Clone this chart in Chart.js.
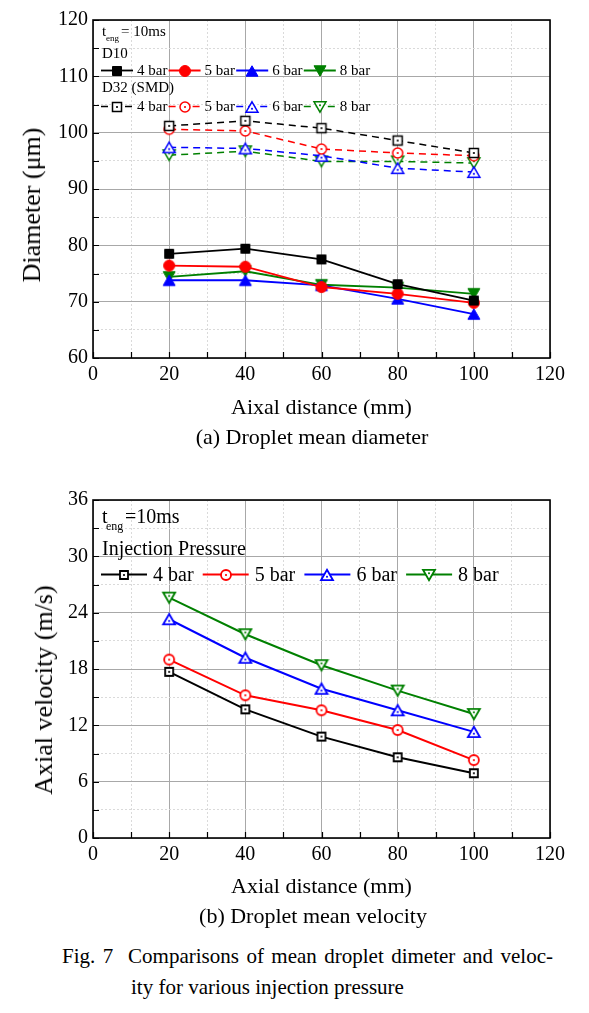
<!DOCTYPE html>
<html>
<head>
<meta charset="utf-8">
<script src="https://cdn.jsdelivr.net/npm/chart.js@4.4.0/dist/chart.umd.min.js"></script>
<style>
	body { margin: 0; background: #fff; }
	#page { position: relative; width: 589px; height: 1013px; overflow: hidden; font-family: "Liberation Serif", "Times New Roman", serif; color: #000; }
	.box { position: absolute; left: 0; width: 589px; }
	.txt { position: absolute; white-space: nowrap; line-height: 1; transform: translate(-50%, -50%); }
	.ytitle { position: absolute; white-space: nowrap; line-height: 1; font-size: 26px; transform: translate(-50%, -50%) rotate(-90deg); }
	.fig { position: absolute; white-space: nowrap; line-height: 1; font-size: 21px; }
</style>
</head>
<body>
<div id="page">
	<div class="box" style="top:0;height:425px"><canvas id="diameterChart" width="589" height="425"></canvas></div>
	<div class="ytitle" style="left:32px;top:205px">Diameter (μm)</div>
	<div class="txt" style="left:312px;top:437px;font-size:22px">(a) Droplet mean diameter</div>

	<div class="box" style="top:470px;height:434px"><canvas id="velocityChart" width="589" height="434"></canvas></div>
	<div class="ytitle" style="left:44px;top:690px">Axial velocity (m/s)</div>
	<div class="txt" style="left:313px;top:916px;font-size:22px">(b) Droplet mean velocity</div>

	<div class="fig" style="left:62px;top:946px;width:491px;text-align:justify;text-align-last:justify">Fig. 7&nbsp; Comparisons of mean droplet dimeter and veloc-</div>
	<div class="fig" style="left:131px;top:977px">ity for various injection pressure</div>
</div>
<script>
"use strict"

// axial distance (mm)
const distance = [20, 40, 60, 80, 100]

// D10 mean diameter (um)
const d10_4bar = [78.5, 79.4, 77.5, 73.1, 70.2]
const d10_5bar = [76.4, 76.2, 72.6, 71.4, 69.8]
const d10_6bar = [73.8, 73.8, 72.9, 70.5, 67.8]
const d10_8bar = [74.4, 75.4, 73.0, 72.5, 71.4]

// D32 (SMD) diameter (um)
const d32_4bar = [101.2, 102.1, 100.8, 98.6, 96.4]
const d32_5bar = [100.6, 100.3, 97.1, 96.4, 95.9]
const d32_6bar = [97.4, 97.2, 95.9, 93.7, 93.0]
const d32_8bar = [96.0, 96.7, 94.9, 94.9, 94.6]

// axial velocity (m/s)
const vel_4bar = [17.7, 13.7, 10.8, 8.6, 6.9]
const vel_5bar = [19.0, 15.2, 13.6, 11.5, 8.3]
const vel_6bar = [23.3, 19.2, 15.9, 13.6, 11.3]
const vel_8bar = [25.6, 21.7, 18.4, 15.7, 13.2]

const pressures = ["4 bar", "5 bar", "6 bar", "8 bar"]
const distanceTicks = [0, 20, 40, 60, 80, 100, 120]
const diameterTicks = [60, 70, 80, 90, 100, 110, 120]
const velocityTicks = [0, 6, 12, 18, 24, 30, 36]

const colors = ["#000000", "#ff0000", "#0000ff", "#008000"]
const shapes = ["square", "circle", "up", "down"]
const serif = "'Liberation Serif', 'Times New Roman', serif"

Chart.defaults.font.family = serif
Chart.defaults.color = "#000"

function makeMarker(shape, color, size, filled, lw) {
	let c = document.createElement("canvas")
	let s = Math.ceil(size + lw) + 2
	if (s % 2) s++
	c.width = s
	c.height = s
	let g = c.getContext("2d")
	let m = s / 2
	let r = size / 2
	let h = size * 0.87
	g.beginPath()
	if (shape == "square") g.rect(m - r, m - r, size, size)
	if (shape == "circle") g.arc(m, m, r, 0, Math.PI * 2)
	if (shape == "up") {
		g.moveTo(m, m - h / 2)
		g.lineTo(m + r, m + h / 2)
		g.lineTo(m - r, m + h / 2)
		g.closePath()
	}
	if (shape == "down") {
		g.moveTo(m, m + h / 2)
		g.lineTo(m + r, m - h / 2)
		g.lineTo(m - r, m - h / 2)
		g.closePath()
	}
	g.fillStyle = filled ? color : "#fff"
	g.fill()
	g.strokeStyle = color
	g.lineWidth = lw
	g.stroke()
	if (!filled) {
		let dy = shape == "up" ? h / 6 : shape == "down" ? -h / 6 : 0
		g.fillStyle = color
		g.fillRect(m - 0.9, m + dy - 0.9, 1.8, 1.8)
	}
	return c
}

function points(values) {
	return distance.map((x, i) => ({ x: x, y: values[i] }))
}

function series(label, values, color, marker, dash, width) {
	return {
		label: label,
		data: points(values),
		borderColor: color,
		backgroundColor: color,
		borderWidth: width,
		borderDash: dash,
		pointStyle: marker,
		pointRadius: 5,
		pointHoverRadius: 5,
		tension: 0,
		fill: false,
	}
}

function axis(min, max, step, majors, fit) {
	return {
		type: "linear",
		min: min,
		max: max,
		ticks: {
			stepSize: step,
			autoSkip: false,
			maxRotation: 0,
			font: { size: 20 },
			color: "#000",
			padding: 5,
			callback: (v) => (majors.includes(v) ? v : ""),
		},
		grid: {
			drawTicks: false,
			lineWidth: 1,
			color: (c) => (c.tick && majors.includes(c.tick.value) ? "#a8a8a8" : "#dadada"),
		},
		border: {
			display: false,
			dash: (c) => (c.tick && !majors.includes(c.tick.value) ? [2, 2] : []),
		},
		afterFit: fit,
	}
}

function legendRow(ctx, datasets, y, x0, step, lineLen, gap, font) {
	datasets.forEach((ds, i) => {
		let x = x0 + i * step
		ctx.save()
		ctx.strokeStyle = ds.borderColor
		ctx.lineWidth = ds.borderWidth
		ctx.setLineDash(ds.borderDash || [])
		ctx.beginPath()
		ctx.moveTo(x, y)
		ctx.lineTo(x + lineLen, y)
		ctx.stroke()
		ctx.setLineDash([])
		let img = ds.pointStyle
		ctx.drawImage(img, Math.round(x + lineLen / 2 - img.width / 2), Math.round(y - img.height / 2))
		ctx.fillStyle = "#000"
		ctx.font = font
		ctx.textBaseline = "middle"
		ctx.fillText(ds.label, x + lineLen + gap, y + 1)
		ctx.restore()
	})
}

function framePlugin(drawLegend) {
	return {
		id: "frame",
		afterDraw(chart) {
			let { ctx, chartArea: a, scales } = chart
			ctx.save()
			ctx.strokeStyle = "#000"
			ctx.lineWidth = 1.2
			ctx.beginPath()
			scales.x.ticks.forEach((t) => {
				let px = Math.round(scales.x.getPixelForValue(t.value)) + 0.5
				ctx.moveTo(px, a.bottom)
				ctx.lineTo(px, a.bottom - 6)
			})
			scales.y.ticks.forEach((t) => {
				let py = Math.round(scales.y.getPixelForValue(t.value)) + 0.5
				ctx.moveTo(a.left, py)
				ctx.lineTo(a.left + 6, py)
			})
			ctx.stroke()
			ctx.lineWidth = 1.6
			ctx.strokeRect(a.left, a.top, a.right - a.left, a.bottom - a.top)
			ctx.restore()
			drawLegend(chart)
		},
	}
}

function subscriptLabel(ctx, x, y, size, subSize, sub, rest, restX) {
	ctx.save()
	ctx.fillStyle = "#000"
	ctx.textBaseline = "alphabetic"
	ctx.font = size + "px " + serif
	ctx.fillText("t", x, y)
	ctx.font = subSize + "px " + serif
	ctx.fillText(sub, x + 4, y + subSize * 0.55)
	ctx.font = size + "px " + serif
	ctx.fillText(rest, restX, y)
	ctx.restore()
}

// (a) droplet mean diameter
let d10Values = [d10_4bar, d10_5bar, d10_6bar, d10_8bar]
let d32Values = [d32_4bar, d32_5bar, d32_6bar, d32_8bar]
let diameterSets = []
d10Values.forEach((v, i) => {
	let m = makeMarker(shapes[i], colors[i], i == 0 ? 9 : i == 1 ? 11 : 12, true, 1)
	diameterSets.push(series(pressures[i], v, colors[i], m, [], 1.8))
})
d32Values.forEach((v, i) => {
	let m = makeMarker(shapes[i], colors[i], i == 0 ? 9 : i == 1 ? 10 : 12, false, 1.5)
	diameterSets.push(series(pressures[i], v, colors[i], m, [7, 5], 1.5))
})

new Chart(document.getElementById("diameterChart"), {
	type: "line",
	data: { datasets: diameterSets },
	options: {
		responsive: false,
		animation: false,
		layout: { padding: { top: 20, right: 39, left: 0, bottom: 0 } },
		plugins: { legend: { display: false }, tooltip: { enabled: false } },
		scales: {
			x: Object.assign(axis(0, 120, 10, distanceTicks, (s) => { s.height = 67 }), {
				title: { display: true, text: "Aixal distance (mm)", font: { size: 22 }, color: "#000", padding: { top: 0, bottom: 4 } },
			}),
			y: axis(60, 120, 5, diameterTicks, (s) => { s.width = 93 }),
		},
	},
	plugins: [
		framePlugin((chart) => {
			let ctx = chart.ctx
			let sets = chart.data.datasets
			subscriptLabel(ctx, 102, 36, 15, 9, "eng", "= 10ms", 121)
			ctx.save()
			ctx.fillStyle = "#000"
			ctx.font = "15px " + serif
			ctx.fillText("D10", 102, 58)
			ctx.fillText("D32 (SMD)", 102, 92)
			ctx.restore()
			legendRow(ctx, sets.slice(0, 4), 70.5, 101, 67.6, 32, 4, "15px " + serif)
			legendRow(ctx, sets.slice(4, 8), 106.5, 101, 67.6, 32, 4, "15px " + serif)
		}),
	],
})

// (b) droplet mean velocity
let velValues = [vel_4bar, vel_5bar, vel_6bar, vel_8bar]
let velocitySets = velValues.map((v, i) => {
	let m = makeMarker(shapes[i], colors[i], i == 0 ? 8 : i == 1 ? 10 : 12, false, 1.8)
	return series(pressures[i], v, colors[i], m, [], 2)
})

new Chart(document.getElementById("velocityChart"), {
	type: "line",
	data: { datasets: velocitySets },
	options: {
		responsive: false,
		animation: false,
		layout: { padding: { top: 30, right: 39, left: 0, bottom: 0 } },
		plugins: { legend: { display: false }, tooltip: { enabled: false } },
		scales: {
			x: Object.assign(axis(0, 120, 10, distanceTicks, (s) => { s.height = 66 }), {
				title: { display: true, text: "Axial distance (mm)", font: { size: 22 }, color: "#000", padding: { top: 0, bottom: 4 } },
			}),
			y: axis(0, 36, 3, velocityTicks, (s) => { s.width = 93 }),
		},
	},
	plugins: [
		framePlugin((chart) => {
			let ctx = chart.ctx
			subscriptLabel(ctx, 102, 53, 20, 12, "eng", "=10ms", 125)
			ctx.save()
			ctx.fillStyle = "#000"
			ctx.font = "20px " + serif
			ctx.fillText("Injection Pressure", 102, 85)
			ctx.restore()
			legendRow(ctx, chart.data.datasets, 104.5, 101, 101.7, 46, 6, "20px " + serif)
		}),
	],
})
</script>
</body>
</html>
